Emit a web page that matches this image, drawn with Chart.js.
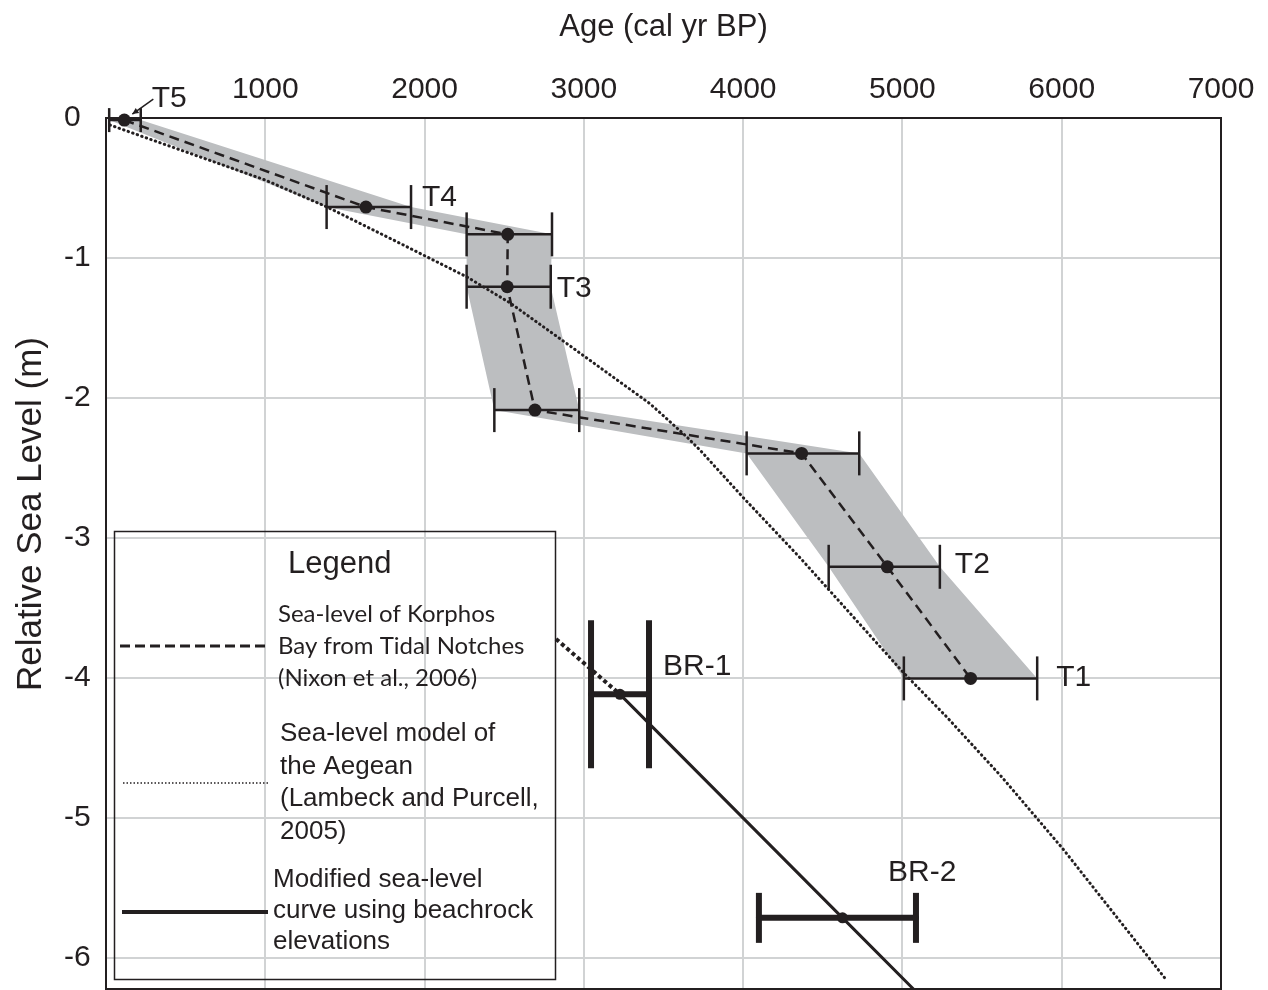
<!DOCTYPE html>
<html>
<head>
<meta charset="utf-8">
<title>Korphos Bay relative sea level</title>
<script src="https://cdn.jsdelivr.net/npm/chart.js@4.4.1/dist/chart.umd.min.js"></script>
<style>
  body { margin: 0; background: #fff; }
  #wrap { width: 1268px; height: 990px; }
</style>
</head>
<body>
<div id="wrap"><canvas id="slChart"></canvas></div>
<script>
// Tick labels
const ageTicks = [1000, 2000, 3000, 4000, 5000, 6000, 7000];
const levelTicks = [0, -1, -2, -3, -4, -5, -6];

// Tidal notches (Nixon et al., 2006): age, level, age range
const notchAge   = [115, 1632, 2522, 2519, 2693, 4367, 4905, 5428];
const notchLevel = [-0.015, -0.636, -0.831, -1.205, -2.086, -2.395, -3.205, -4.002];
const notchMin   = [20, 1385, 2264, 2264, 2438, 4022, 4537, 5009];
const notchMax   = [218, 1915, 2800, 2792, 2971, 4729, 5235, 5846];
const notchNames = ['T5', 'T4', '', 'T3', '', '', 'T2', 'T1'];

// Beachrock samples
const brAge   = [3227, 4624];
const brLevel = [-4.116, -5.712];
const brMin   = [3045, 4099];
const brMax   = [3409, 5085];
const brNames = ['BR-1', 'BR-2'];

// Sea-level model of the Aegean (Lambeck and Purcell, 2005)
const aegeanAge   = [25, 1000, 1385, 1846, 2264, 2536, 2892, 3415, 3645, 3729, 4000, 4357, 5009, 5277, 5623, 6008, 6658];
const aegeanLevel = [-0.05, -0.443, -0.634, -0.895, -1.134, -1.32, -1.61, -2.04, -2.276, -2.371, -2.71, -3.14, -3.964, -4.276, -4.705, -5.22, -6.157];

// Modified curve using beachrock elevations
const modAge   = [3227, 4624, 5069];
const modLevel = [-4.116, -5.712, -6.22];
const modExtAge   = [2825, 3227];
const modExtLevel = [-3.72, -4.116];

// styles
const ink = '#231f20';
const bandGrey = '#bcbec0';
const gridGrey = '#d1d3d4';
const notchCap = [12, 22, 22, 22, 22, 22, 22, 22];   // half cap height, px
const brCap = [74, 25];
const notchLabelOffset = [[11, -21], [11, -9], null, [6, 2], null, null, [15, -2], [19, -1]];
const brLabelOffset = [[14, -28], [-28, -45]];

const pts = (xs, ys) => xs.map((x, i) => ({ x: x, y: ys[i] }));

function barData(mins, maxs, levels) {
  const out = [];
  levels.forEach((y, i) => {
    out.push({ x: mins[i], y: y }, { x: maxs[i], y: y }, { x: null, y: null });
  });
  return out;
}

const bandData = pts(notchMax, notchLevel).concat(pts(notchMin, notchLevel).reverse());

// frame, labels, y title and legend box
const decorPlugin = {
  id: 'decor',
  afterDatasetsDraw(chart) {
    const { ctx, chartArea: a, scales: { x, y } } = chart;
    ctx.save();
    ctx.strokeStyle = ink;
    ctx.lineWidth = 2;
    ctx.strokeRect(a.left, a.top, a.right - a.left, a.bottom - a.top);

    ctx.fillStyle = ink;
    ctx.font = '30px "Liberation Sans", Arial, sans-serif';
    ctx.textBaseline = 'middle';
    ctx.textAlign = 'left';
    notchNames.forEach((name, i) => {
      if (!name) return;
      const off = notchLabelOffset[i];
      ctx.fillText(name, x.getPixelForValue(notchMax[i]) + off[0], y.getPixelForValue(notchLevel[i]) + off[1]);
    });
    brNames.forEach((name, i) => {
      const off = brLabelOffset[i];
      ctx.fillText(name, x.getPixelForValue(brMax[i]) + off[0], y.getPixelForValue(brLevel[i]) + off[1]);
    });

    // small arrow from T5 label to its point
    const px0 = x.getPixelForValue(notchAge[0]);
    const py0 = y.getPixelForValue(notchLevel[0]);
    const sx = px0 + 29, sy = py0 - 21, ex = px0 + 8, ey = py0 - 6;
    ctx.lineWidth = 1.5;
    ctx.beginPath();
    ctx.moveTo(sx, sy);
    ctx.lineTo(ex, ey);
    ctx.stroke();
    const ang = Math.atan2(ey - sy, ex - sx);
    ctx.beginPath();
    ctx.moveTo(ex, ey);
    ctx.lineTo(ex - 7 * Math.cos(ang - 0.45), ey - 7 * Math.sin(ang - 0.45));
    ctx.lineTo(ex - 7 * Math.cos(ang + 0.45), ey - 7 * Math.sin(ang + 0.45));
    ctx.closePath();
    ctx.fill();
    ctx.restore();
  },
  afterDraw(chart) {
    const { ctx } = chart;
    ctx.save();
    ctx.fillStyle = ink;
    ctx.strokeStyle = ink;

    // y axis title
    ctx.save();
    ctx.translate(31, 514);
    ctx.rotate(-Math.PI / 2);
    ctx.font = '35px "Liberation Sans", Arial, sans-serif';
    ctx.textAlign = 'center';
    ctx.textBaseline = 'middle';
    ctx.fillText('Relative Sea Level (m)', 0, 0);
    ctx.restore();

    // legend box
    ctx.lineWidth = 1.5;
    ctx.strokeRect(114.5, 531.5, 441, 448);
    ctx.textBaseline = 'middle';
    ctx.textAlign = 'left';
    ctx.font = '31px "Liberation Sans", Arial, sans-serif';
    ctx.fillText('Legend', 288, 564);

    ctx.lineWidth = 3;
    ctx.setLineDash([10, 5]);
    ctx.beginPath(); ctx.moveTo(120, 646); ctx.lineTo(268, 646); ctx.stroke();
    ctx.lineWidth = 1.5;
    ctx.setLineDash([1.5, 2]);
    ctx.beginPath(); ctx.moveTo(123, 783); ctx.lineTo(268, 783); ctx.stroke();
    ctx.lineWidth = 4;
    ctx.setLineDash([]);
    ctx.beginPath(); ctx.moveTo(122, 912); ctx.lineTo(268, 912); ctx.stroke();

    ctx.font = '24px Lato, "Noto Sans", sans-serif';
    ['Sea-level of Korphos', 'Bay from Tidal Notches', '(Nixon et al., 2006)']
      .forEach((t, i) => ctx.fillText(t, 278, 614 + i * 32));
    ctx.font = '26px "Liberation Sans", Arial, sans-serif';
    ['Sea-level model of', 'the Aegean', '(Lambeck and Purcell,', '2005)']
      .forEach((t, i) => ctx.fillText(t, 280, 734 + i * 32.5));
    ['Modified sea-level', 'curve using beachrock', 'elevations']
      .forEach((t, i) => ctx.fillText(t, 273, 880 + i * 31));
    ctx.restore();
  }
};

const ctx = document.getElementById('slChart').getContext('2d');
const chart = new Chart(ctx, {
  type: 'line',
  data: {
    datasets: [
      {
        label: 'Tidal notch envelope',
        data: bandData,
        fill: 'shape',
        backgroundColor: bandGrey,
        borderColor: 'rgba(0,0,0,0)',
        borderWidth: 0,
        pointRadius: 0,
        order: 10
      },
      {
        label: 'Sea-level model of the Aegean (Lambeck and Purcell, 2005)',
        data: pts(aegeanAge, aegeanLevel),
        borderColor: ink,
        borderWidth: 3,
        borderCapStyle: 'round',
        borderDash: [0.5, 4.3],
        pointRadius: 0,
        fill: false,
        order: 9
      },
      {
        label: 'Sea-level of Korphos Bay from Tidal Notches (Nixon et al., 2006)',
        data: pts(notchAge, notchLevel),
        borderColor: ink,
        borderWidth: 2.5,
        borderDash: [10, 6],
        pointRadius: 0,
        fill: false,
        order: 8
      },
      {
        label: 'Modified sea-level curve using beachrock elevations',
        data: pts(modAge, modLevel),
        borderColor: ink,
        borderWidth: 3,
        pointRadius: 0,
        fill: false,
        order: 7
      },
      {
        label: 'Modified curve extension',
        data: pts(modExtAge, modExtLevel),
        borderColor: ink,
        borderWidth: 4,
        borderDash: [4, 3],
        pointRadius: 0,
        fill: false,
        order: 6
      },
      {
        label: 'Notch age range',
        data: barData(notchMin, notchMax, notchLevel),
        borderColor: ink,
        borderWidth: 2.5,
        pointStyle: 'line',
        pointRotation: 90,
        pointRadius: c => notchCap[Math.floor(c.dataIndex / 3)],
        pointBorderColor: ink,
        pointBorderWidth: 2.5,
        fill: false,
        clip: false,
        order: 5
      },
      {
        label: 'Beachrock age range',
        data: barData(brMin, brMax, brLevel),
        borderColor: ink,
        borderWidth: 6,
        borderCapStyle: 'round',
        pointStyle: 'line',
        pointRotation: 90,
        pointRadius: c => brCap[Math.floor(c.dataIndex / 3)],
        pointBorderColor: ink,
        pointBorderWidth: 6,
        fill: false,
        clip: false,
        order: 4
      },
      {
        label: 'Tidal notches',
        data: pts(notchAge, notchLevel),
        showLine: false,
        pointRadius: 6.5,
        pointBackgroundColor: ink,
        pointBorderColor: ink,
        pointBorderWidth: 0,
        clip: false,
        order: 3
      },
      {
        label: 'Beachrock',
        data: pts(brAge, brLevel),
        showLine: false,
        pointRadius: 5.5,
        pointBackgroundColor: ink,
        pointBorderColor: ink,
        pointBorderWidth: 0,
        order: 2
      }
    ]
  },
  options: {
    responsive: true,
    maintainAspectRatio: false,
    animation: false,
    events: [],
    layout: { autoPadding: false, padding: { left: 64, top: 0, right: 47, bottom: 1 } },
    elements: { line: { tension: 0 } },
    scales: {
      x: {
        type: 'linear',
        position: 'top',
        min: 0,
        max: 7000,
        afterBuildTicks: s => { s.ticks = ageTicks.map(v => ({ value: v })); },
        afterFit: s => { s.height = 118; s.paddingLeft = 0; s.paddingRight = 0; },
        ticks: {
          color: ink,
          padding: 10,
          maxRotation: 0,
          callback: v => String(v),
          font: { family: '"Liberation Sans", Arial, sans-serif', size: 30 }
        },
        grid: { color: gridGrey, lineWidth: 2, drawTicks: false },
        border: { display: false },
        title: {
          display: true,
          text: 'Age (cal yr BP)',
          color: ink,
          padding: { top: 9, bottom: 0 },
          font: { family: '"Liberation Sans", Arial, sans-serif', size: 31 }
        }
      },
      y: {
        type: 'linear',
        min: -6.22,
        max: 0,
        afterBuildTicks: s => { s.ticks = levelTicks.map(v => ({ value: v })); },
        afterFit: s => { s.width = 42; s.paddingTop = 0; s.paddingBottom = 0; },
        ticks: {
          color: ink,
          padding: 0,
          crossAlign: 'far',
          callback: v => String(v),
          font: { family: '"Liberation Sans", Arial, sans-serif', size: 30 }
        },
        grid: { color: gridGrey, lineWidth: 2, drawTicks: false },
        border: { display: false }
      }
    },
    plugins: {
      legend: { display: false },
      tooltip: { enabled: false }
    }
  },
  plugins: [decorPlugin]
});
</script>
</body>
</html>
